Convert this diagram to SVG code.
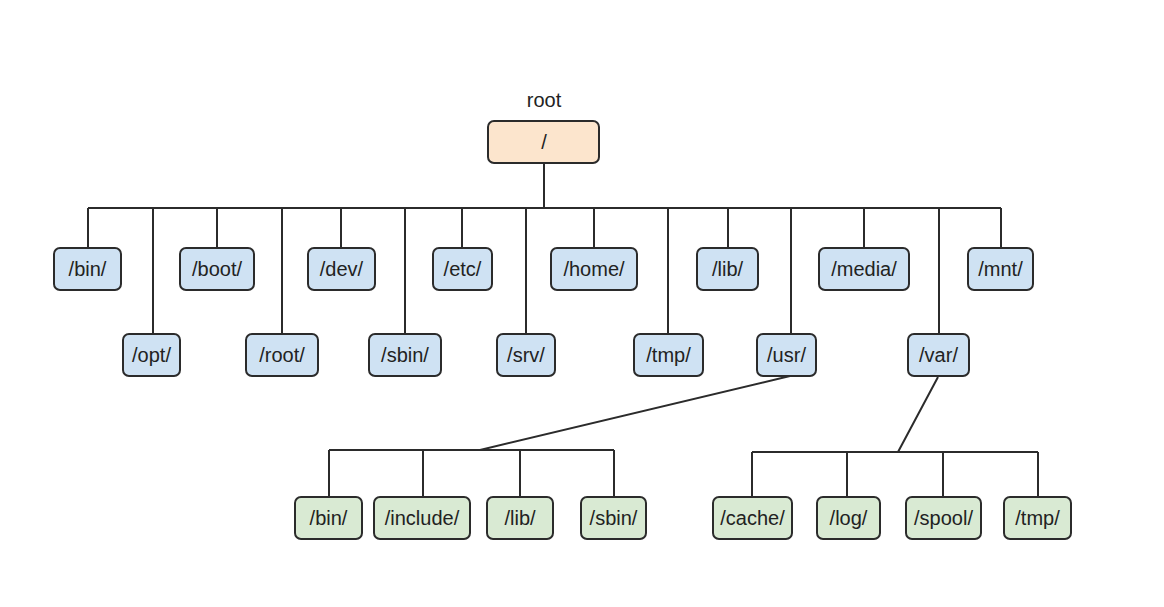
<svg xmlns="http://www.w3.org/2000/svg" width="1164" height="607" viewBox="0 0 1164 607">
<style>
.bx{stroke:#2b2b2b;stroke-width:2}
.blue{fill:#cfe2f3}
.green{fill:#d9ead3}
.orange{fill:#fce5cd}
.t{font-family:"Liberation Sans",Arial,sans-serif;font-size:20px;fill:#222;text-anchor:middle}
.c{stroke:#2b2b2b;stroke-width:2;fill:none}
</style>
<rect width="1164" height="607" fill="#fff"/>
<g id="connectors">
<path class="c" d="M544 163V208M88 208H1001M88 208V248M153 208V334M217 208V248M282 208V334M341 208V248M405 208V334M462 208V248M526 208V334M594 208V248M668 208V334M728 208V248M791 208V334M864 208V248M939 208V334M1001 208V248"/>
<path class="c" d="M790 376L480 450M329 450H614M329 450V497M423 450V497M520 450V497M614 450V497"/>
<path class="c" d="M938 377L898 452M752 452H1038M752 452V497M847 452V497M943 452V497M1038 452V497"/>
</g>
<text class="t" x="544" y="107">root</text>
<g id="n-root"><rect class="bx orange" x="488" y="121" width="111" height="42" rx="6"/><text class="t" x="544" y="149">/</text></g>
<g id="n-bin"><rect class="bx blue" x="54" y="248" width="67" height="42" rx="6"/><text class="t" x="87.5" y="276">/bin/</text></g>
<g id="n-boot"><rect class="bx blue" x="180" y="248" width="74" height="42" rx="6"/><text class="t" x="217" y="276">/boot/</text></g>
<g id="n-dev"><rect class="bx blue" x="308" y="248" width="67" height="42" rx="6"/><text class="t" x="341.5" y="276">/dev/</text></g>
<g id="n-etc"><rect class="bx blue" x="433" y="248" width="59" height="42" rx="6"/><text class="t" x="462.5" y="276">/etc/</text></g>
<g id="n-home"><rect class="bx blue" x="551" y="248" width="86" height="42" rx="6"/><text class="t" x="594" y="276">/home/</text></g>
<g id="n-lib"><rect class="bx blue" x="697" y="248" width="61" height="42" rx="6"/><text class="t" x="727.5" y="276">/lib/</text></g>
<g id="n-media"><rect class="bx blue" x="819" y="248" width="90" height="42" rx="6"/><text class="t" x="864" y="276">/media/</text></g>
<g id="n-mnt"><rect class="bx blue" x="968" y="248" width="65" height="42" rx="6"/><text class="t" x="1000.5" y="276">/mnt/</text></g>
<g id="n-opt"><rect class="bx blue" x="123" y="334" width="57" height="42" rx="6"/><text class="t" x="151.5" y="362">/opt/</text></g>
<g id="n-rootdir"><rect class="bx blue" x="246" y="334" width="72" height="42" rx="6"/><text class="t" x="282" y="362">/root/</text></g>
<g id="n-sbin"><rect class="bx blue" x="369" y="334" width="72" height="42" rx="6"/><text class="t" x="405" y="362">/sbin/</text></g>
<g id="n-srv"><rect class="bx blue" x="497" y="334" width="58" height="42" rx="6"/><text class="t" x="526" y="362">/srv/</text></g>
<g id="n-tmp"><rect class="bx blue" x="634" y="334" width="69" height="42" rx="6"/><text class="t" x="668.5" y="362">/tmp/</text></g>
<g id="n-usr"><rect class="bx blue" x="757" y="334" width="59" height="42" rx="6"/><text class="t" x="786.5" y="362">/usr/</text></g>
<g id="n-var"><rect class="bx blue" x="908" y="334" width="61" height="42" rx="6"/><text class="t" x="938.5" y="362">/var/</text></g>
<g id="n-usr-bin"><rect class="bx green" x="295" y="497" width="67" height="42" rx="6"/><text class="t" x="328.5" y="525">/bin/</text></g>
<g id="n-usr-include"><rect class="bx green" x="374" y="497" width="96" height="42" rx="6"/><text class="t" x="422" y="525">/include/</text></g>
<g id="n-usr-lib"><rect class="bx green" x="487" y="497" width="66" height="42" rx="6"/><text class="t" x="520" y="525">/lib/</text></g>
<g id="n-usr-sbin"><rect class="bx green" x="581" y="497" width="65" height="42" rx="6"/><text class="t" x="613.5" y="525">/sbin/</text></g>
<g id="n-var-cache"><rect class="bx green" x="713" y="497" width="79" height="42" rx="6"/><text class="t" x="752.5" y="525">/cache/</text></g>
<g id="n-var-log"><rect class="bx green" x="817" y="497" width="63" height="42" rx="6"/><text class="t" x="848.5" y="525">/log/</text></g>
<g id="n-var-spool"><rect class="bx green" x="906" y="497" width="75" height="42" rx="6"/><text class="t" x="943.5" y="525">/spool/</text></g>
<g id="n-var-tmp"><rect class="bx green" x="1004" y="497" width="67" height="42" rx="6"/><text class="t" x="1037.5" y="525">/tmp/</text></g>
</svg>
